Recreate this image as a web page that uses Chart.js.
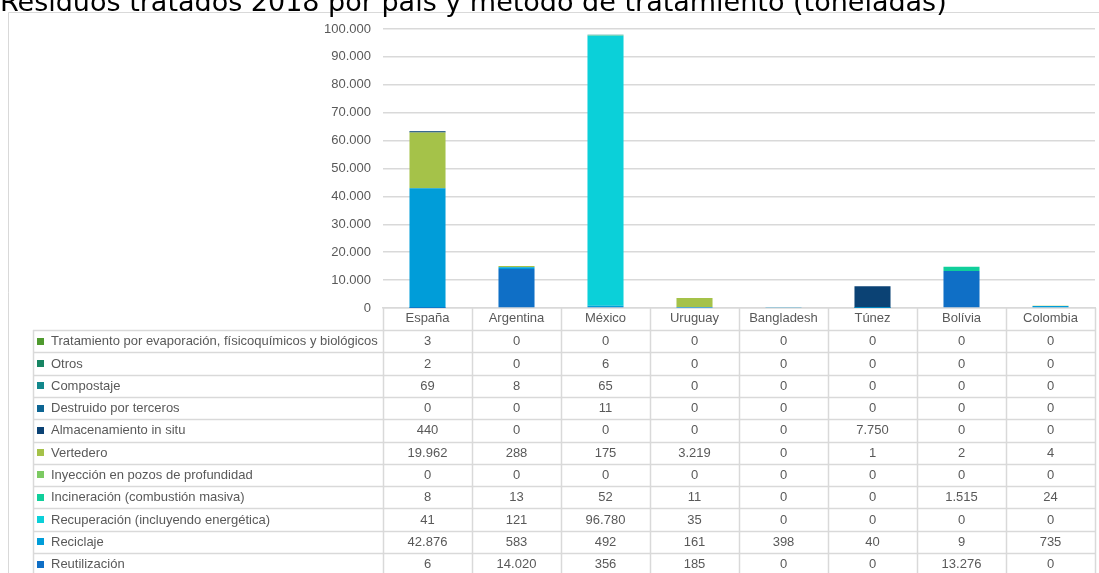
<!DOCTYPE html>
<html>
<head>
<meta charset="utf-8">
<script src="https://cdn.jsdelivr.net/npm/chart.js@4"></script>
<style>
	html, body { margin: 0; padding: 0; background: #fff; }
	#wrap { width: 1099px; height: 573px; position: relative; }
</style>
</head>
<body>
<div id="wrap"><canvas id="residuos-chart"></canvas></div>
<script>
const titulo = 'Residuos tratados 2018 por país y método de tratamiento (toneladas)';
const paises = ['España', 'Argentina', 'México', 'Uruguay', 'Bangladesh', 'Túnez', 'Bolívia', 'Colombia'];
const yTicks = [0, 10000, 20000, 30000, 40000, 50000, 60000, 70000, 80000, 90000, 100000];

const tratamiento = [3, 0, 0, 0, 0, 0, 0, 0];
const otros = [2, 0, 6, 0, 0, 0, 0, 0];
const compostaje = [69, 8, 65, 0, 0, 0, 0, 0];
const destruido = [0, 0, 11, 0, 0, 0, 0, 0];
const almacenamiento = [440, 0, 0, 0, 0, 7750, 0, 0];
const vertedero = [19962, 288, 175, 3219, 0, 1, 2, 4];
const inyeccion = [0, 0, 0, 0, 0, 0, 0, 0];
const incineracion = [8, 13, 52, 11, 0, 0, 1515, 24];
const recuperacion = [41, 121, 96780, 35, 0, 0, 0, 0];
const reciclaje = [42876, 583, 492, 161, 398, 40, 9, 735];
const reutilizacion = [6, 14020, 356, 185, 0, 0, 13276, 0];

// orden de apilado: la primera serie queda abajo
const series = [
	{ label: 'Reutilización', data: reutilizacion, color: '#0F6FC6' },
	{ label: 'Reciclaje', data: reciclaje, color: '#009DD9' },
	{ label: 'Recuperación (incluyendo energética)', data: recuperacion, color: '#0BD0D9' },
	{ label: 'Incineración (combustión masiva)', data: incineracion, color: '#10CF9B' },
	{ label: 'Inyección en pozos de profundidad', data: inyeccion, color: '#7CCA62' },
	{ label: 'Vertedero', data: vertedero, color: '#A5C249' },
	{ label: 'Almacenamiento in situ', data: almacenamiento, color: '#0B4274' },
	{ label: 'Destruido por terceros', data: destruido, color: '#0D6593' },
	{ label: 'Compostaje', data: compostaje, color: '#12888C' },
	{ label: 'Otros', data: otros, color: '#178563' },
	{ label: 'Tratamiento por evaporación, físicoquímicos y biológicos', data: tratamiento, color: '#4F9A2F' }
];

const GRID = '#d9d9d9';
const TEXTO = '#595959';
const FUENTE = '"Liberation Sans", Arial, sans-serif';
const FILA = 22.3;

window.onload = () => {
	createResiduosChart();
};

function fmt(n) {
	return String(n).replace(/\B(?=(\d{3})+(?!\d))/g, '.');
}

const tablaPlugin = {
	id: 'tabla',
	afterDraw(chart) {
		const ctx = chart.ctx;
		const x = chart.scales.x;
		const area = chart.chartArea;
		const top = area.bottom;
		const head = top + 22;
		const labelLeft = 33;
		const filas = series.slice().reverse();
		const bottom = head + filas.length * FILA;

		ctx.save();

		// marco exterior y título
		ctx.strokeStyle = GRID;
		ctx.lineWidth = 1;
		ctx.beginPath();
		ctx.moveTo(8.5, chart.height);
		ctx.lineTo(8.5, 12.5);
		ctx.lineTo(chart.width, 12.5);
		ctx.stroke();

		ctx.fillStyle = '#000';
		ctx.font = '27px "DejaVu Sans", Verdana, sans-serif';
		ctx.textAlign = 'left';
		ctx.textBaseline = 'alphabetic';
		ctx.fillText(titulo, 0, 11);

		// rejilla de la tabla
		ctx.strokeStyle = GRID;
		ctx.lineWidth = 1.5;
		ctx.beginPath();
		for (let i = 0; i <= paises.length; i++) {
			const px = Math.round(x.getPixelForValue(i - 0.5)) + 0.5;
			ctx.moveTo(px, top);
			ctx.lineTo(px, bottom);
		}
		ctx.moveTo(labelLeft + 0.5, head);
		ctx.lineTo(labelLeft + 0.5, bottom);
		for (let r = 0; r <= filas.length; r++) {
			const py = Math.round(head + r * FILA) + 0.5;
			ctx.moveTo(labelLeft, py);
			ctx.lineTo(area.right, py);
		}
		ctx.stroke();

		ctx.font = '13px ' + FUENTE;
		ctx.textBaseline = 'middle';
		filas.forEach((s, r) => {
			const cy = head + r * FILA + FILA / 2 + 0.5;
			ctx.fillStyle = s.color;
			ctx.fillRect(37, Math.round(cy) - 4, 7, 7);
			ctx.fillStyle = TEXTO;
			ctx.textAlign = 'left';
			ctx.fillText(s.label, 51, cy);
			ctx.textAlign = 'center';
			s.data.forEach((v, i) => {
				ctx.fillText(fmt(v), x.getPixelForValue(i), cy);
			});
		});

		ctx.restore();
	}
};

function createResiduosChart() {
	const ctx = document.getElementById('residuos-chart').getContext('2d');
	new Chart(ctx, {
		type: 'bar',
		data: {
			labels: paises,
			datasets: series.map(s => ({
				label: s.label,
				data: s.data,
				backgroundColor: s.color,
				borderWidth: 0,
				categoryPercentage: 1,
				barPercentage: 0.405
			}))
		},
		options: {
			responsive: true,
			maintainAspectRatio: false,
			animation: false,
			layout: {
				padding: { top: 29, right: 4, bottom: 243, left: 0 }
			},
			scales: {
				x: {
					stacked: true,
					grid: { display: false, drawTicks: false },
					border: { display: true, color: GRID, width: 1.5 },
					ticks: { color: TEXTO, font: { family: FUENTE, size: 13 }, padding: 3, maxRotation: 0 },
					afterFit: (scale) => { scale.height = 22; }
				},
				y: {
					stacked: true,
					min: 0,
					max: 100000,
					afterBuildTicks: (scale) => { scale.ticks = yTicks.map(v => ({ value: v })); },
					grid: { color: GRID, lineWidth: 1.5, drawTicks: false },
					border: { display: false },
					ticks: {
						color: TEXTO,
						font: { family: FUENTE, size: 13 },
						padding: 12,
						callback: (v) => fmt(v)
					},
					afterFit: (scale) => { scale.width = 383; }
				}
			},
			plugins: {
				legend: { display: false },
				tooltip: { enabled: false }
			}
		},
		plugins: [tablaPlugin]
	});
}
</script>
</body>
</html>
